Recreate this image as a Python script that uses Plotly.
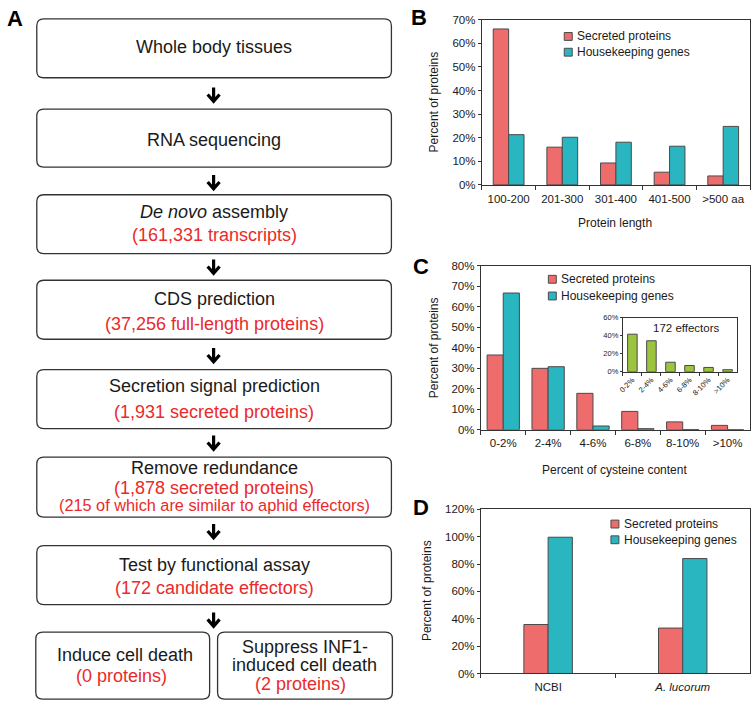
import plotly.graph_objects as go

# ---------------- data ----------------
len_cats = ["100-200", "201-300", "301-400", "401-500", ">500 aa"]
len_secreted = [66.1, 16.0, 9.3, 5.4, 3.8]
len_housekeeping = [21.3, 20.2, 18.1, 16.4, 24.8]

cys_cats = ["0-2%", "2-4%", "4-6%", "6-8%", "8-10%", ">10%"]
cys_secreted = [36.4, 29.9, 17.7, 8.9, 3.8, 2.1]
cys_housekeeping = [66.6, 30.7, 1.8, 0.5, 0.1, 0.0]
cys_effectors = [41.6, 34.3, 10.5, 6.9, 4.7, 2.2]

db_cats = ["NCBI", "A. lucorum"]
db_ticktext = ["NCBI", "<i>A. lucorum</i>"]
db_secreted = [35.8, 33.2]
db_housekeeping = [99.6, 84.0]

flow_main = ["Whole body tissues", "RNA sequencing", "<i>De novo</i> assembly",
             "CDS prediction", "Secretion signal prediction", "Remove redundance",
             "Test by functional assay"]
flow_red = ["", "", "(161,331 transcripts)", "(37,256 full-length proteins)",
            "(1,931 secreted proteins)", "(1,878 secreted proteins)",
            "(172 candidate effectors)"]
flow_note = "(215 of which are similar to aphid effectors)"
leaf_left = ["Induce cell death", "(0 proteins)"]
leaf_right = ["Suppress INF1-", "induced cell death", "(2 proteins)"]

# ---------------- style ----------------
W, H = 752, 707
FONT = "Liberation Sans, Arial, sans-serif"
RED = "#EF6C6C"
TEAL = "#29B6C0"
GREEN = "#9CC43F"
EDGE = "#4a4a4a"
AX = "#333333"
TXT = "#1a1a1a"
TXT_RED = "#EA2A2A"
FS = 18


def fx(x):
    return x / W


def fy(y):
    return 1 - y / H


fig = go.Figure()

# ---- Panel B
wb = 0.287
fig.add_trace(go.Bar(x=len_cats, y=len_secreted, width=wb, offset=-wb,
                     marker=dict(color=RED, line=dict(color=EDGE, width=1)),
                     name="Secreted proteins", xaxis="x", yaxis="y"))
fig.add_trace(go.Bar(x=len_cats, y=len_housekeeping, width=wb, offset=0,
                     marker=dict(color=TEAL, line=dict(color=EDGE, width=1)),
                     name="Housekeeping genes", xaxis="x", yaxis="y"))
# ---- Panel C
wc = 0.36
fig.add_trace(go.Bar(x=cys_cats, y=cys_secreted, width=wc, offset=-wc,
                     marker=dict(color=RED, line=dict(color=EDGE, width=1)),
                     name="Secreted proteins", xaxis="x2", yaxis="y2"))
fig.add_trace(go.Bar(x=cys_cats, y=cys_housekeeping, width=wc, offset=0,
                     marker=dict(color=TEAL, line=dict(color=EDGE, width=1)),
                     name="Housekeeping genes", xaxis="x2", yaxis="y2"))
# ---- Panel D
wd = 0.18
fig.add_trace(go.Bar(x=db_cats, y=db_secreted, width=wd, offset=-wd,
                     marker=dict(color=RED, line=dict(color=EDGE, width=1)),
                     name="Secreted proteins", xaxis="x3", yaxis="y3"))
fig.add_trace(go.Bar(x=db_cats, y=db_housekeeping, width=wd, offset=0,
                     marker=dict(color=TEAL, line=dict(color=EDGE, width=1)),
                     name="Housekeeping genes", xaxis="x3", yaxis="y3"))
# ---- Inset
wi = 0.5
fig.add_trace(go.Bar(x=cys_cats, y=cys_effectors, width=wi, offset=-wi / 2,
                     marker=dict(color=GREEN, line=dict(color=EDGE, width=1)),
                     name="172 effectors", xaxis="x4", yaxis="y4"))


def xax(dom, anchor, size=11.5, **kw):
    d = dict(domain=[fx(dom[0]), fx(dom[1])], anchor=anchor, type="category",
             showline=True, linecolor=AX, linewidth=1, mirror=True,
             ticks="outside", ticklen=4, tickcolor=AX, tickson="boundaries",
             showgrid=False, zeroline=False,
             tickfont=dict(family=FONT, size=size, color=TXT))
    d.update(kw)
    return d


def yax(dom, anchor, rng, dtick, size=11.5, **kw):
    d = dict(domain=[fy(dom[1]), fy(dom[0])], anchor=anchor, range=rng, dtick=dtick,
             ticksuffix="%", showline=True, linecolor=AX, linewidth=1, mirror=True,
             ticks="outside", ticklen=3, tickcolor=AX, showgrid=False, zeroline=False,
             tickfont=dict(family=FONT, size=size, color=TXT))
    d.update(kw)
    return d


shapes = []
ann = []


def text(t, x, y, size=FS, color=TXT, xanchor="center", angle=0):
    ann.append(dict(text=t, x=fx(x), y=fy(y), xref="paper", yref="paper",
                    showarrow=False, xanchor=xanchor, yanchor="middle", textangle=angle,
                    font=dict(family=FONT, size=size, color=color)))


# ---- flowchart boxes
def rrect(x0, y0, x1, y1, r=7):
    rx, ry = r / W, r / H
    X0, X1, Y0, Y1 = fx(x0), fx(x1), fy(y0), fy(y1)
    p = (f"M{X0+rx},{Y0} L{X1-rx},{Y0} Q{X1},{Y0} {X1},{Y0-ry} "
         f"L{X1},{Y1+ry} Q{X1},{Y1} {X1-rx},{Y1} L{X0+rx},{Y1} "
         f"Q{X0},{Y1} {X0},{Y1+ry} L{X0},{Y0-ry} Q{X0},{Y0} {X0+rx},{Y0} Z")
    return dict(type="path", path=p, xref="paper", yref="paper",
                line=dict(color="#333333", width=1.3), fillcolor="white", layer="below")


boxes = [(13, 73), (105, 164), (192, 252), (279, 339), (370, 430), (459, 520), (549, 609)]
for (y0, y1) in boxes:
    shapes.append(rrect(32, y0, 389, y1))
shapes.append(rrect(31, 637, 206, 705))
shapes.append(rrect(214, 637, 390, 705))

# arrows
arrows = [(83, 98), (172, 187), (258, 273), (348, 363), (437, 452), (527, 542), (617, 632)]
for (a0, a1) in arrows:
    xc = 210
    p = (f"M{fx(xc)},{fy(a0)} L{fx(xc)},{fy(a1-1)} "
         f"M{fx(xc-6)},{fy(a1-8)} L{fx(xc)},{fy(a1-1)} L{fx(xc+6)},{fy(a1-8)}")
    shapes.append(dict(type="path", path=p, xref="paper", yref="paper",
                       line=dict(color="black", width=3.2)))

# flowchart text
main_y = [42, 136, 210, 298, 387, 470, 569]
red_y = [None, None, 233, 323, 413, 490, 592]
for t, yy in zip(flow_main, main_y):
    text(t, 210.5, yy)
for t, yy in zip(flow_red, red_y):
    if t:
        text(t, 210.5, yy, color=TXT_RED)
text(flow_note, 210.5, 508, size=16.3, color=TXT_RED)
text(leaf_left[0], 120.5, 660)
text(leaf_left[1], 117.5, 682, color=TXT_RED)
text(leaf_right[0], 302, 652)
text(leaf_right[1], 302, 670.5)
text(leaf_right[2], 297, 689.5, color=TXT_RED)

# panel letters
for lab, (lx, ly) in zip("ABCD", [(10, 13), (417, 12), (419, 265), (419, 510)]):
    text(f"<b>{lab}</b>", lx, ly, size=22, color="black")

# axis titles
text("Percent of proteins", 432, 98, size=12, angle=-90)
text("Protein length", 614, 221, size=12)
text("Percent of proteins", 432, 348, size=12, angle=-90)
text("Percent of cysteine content", 614, 472, size=12)
text("Percent of proteins", 425, 595, size=12, angle=-90)
text("172 effectors", 686, 328, size=11.5)


# manual legends
def legend(x_sw, ys, labels, colors):
    for yy, lab, col in zip(ys, labels, colors):
        shapes.append(dict(type="rect", xref="paper", yref="paper",
                           x0=fx(x_sw), x1=fx(x_sw + 8), y0=fy(yy + 4), y1=fy(yy - 4),
                           fillcolor=col, line=dict(color=EDGE, width=1)))
        text(lab, x_sw + 11, yy, size=12, xanchor="left")


labs = ["Secreted proteins", "Housekeeping genes"]
legend(563, [31, 47], labs, [RED, TEAL])
legend(547, [278, 295], labs, [RED, TEAL])
legend(610, [527, 543], labs, [RED, TEAL])

fig.update_layout(
    width=W, height=H, margin=dict(l=0, r=0, t=0, b=0),
    paper_bgcolor="white", plot_bgcolor="white",
    barmode="overlay", showlegend=False,
    font=dict(family=FONT, color=TXT),
    xaxis=xax((480, 750), "y", ticklabelstandoff=3),
    yaxis=yax((14, 182), "x", [0, 70], 10),
    xaxis2=xax((479, 750), "y2", ticklabelstandoff=3),
    yaxis2=yax((264, 431), "x2", [0, 80], 10),
    xaxis3=xax((479, 750), "y3", ticklabelstandoff=3,
               tickvals=db_cats, ticktext=db_ticktext),
    yaxis3=yax((512, 679), "x3", [0, 120], 20),
    xaxis4=xax((622, 737), "y4", size=7.5, tickangle=-45, ticklen=3),
    yaxis4=yax((317, 372), "x4", [0, 60], 20, size=7.5, ticklen=2),
    shapes=shapes, annotations=ann,
)

fig.write_html("out.html",
               config={"displayModeBar": False},
               post_script="document.body.style.margin='0';"
                           "document.body.style.overflow='hidden';")
